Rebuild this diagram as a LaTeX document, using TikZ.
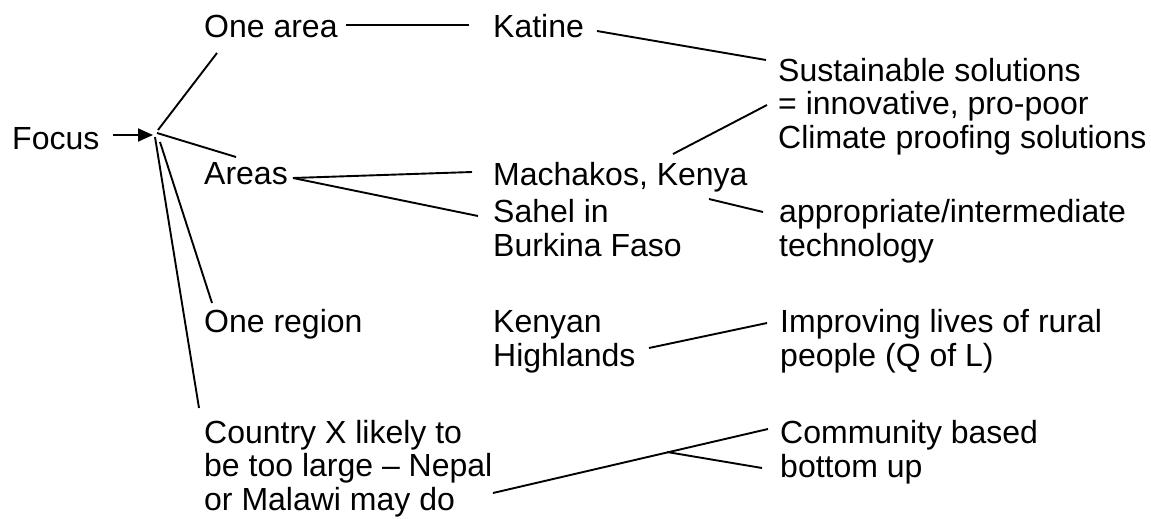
\documentclass[tikz,border=0pt]{standalone}
\usepackage{fontspec}
\setmainfont{Liberation Sans}
\usetikzlibrary{arrows.meta}
\begin{document}
\begin{tikzpicture}[x=1pt,y=-1pt,
  lbl/.style={anchor=base west,inner sep=0pt,align=left,
    font=\fontsize{32}{33.5}\selectfont},
  link/.style={line width=1.9pt},
  pointer/.style={line width=1.9pt,-{Triangle[length=15pt,width=13pt]}}]
\useasboundingbox (0,0) rectangle (1151,519);

% labels are placed by the baseline of their last line
% column 1
\node[lbl] (focus) at (12,149) {Focus};
% column 2
\node[lbl] (onearea) at (204,38) {One area};
\node[lbl] (areas) at (204,184) {Areas};
\node[lbl] (oneregion) at (204,332) {One region};
\node[lbl] (country) at (204,510) {Country X likely to\\be too large -- Nepal\\or Malawi may do};
% column 3
\node[lbl] (katine) at (493,38) {Katine};
\node[lbl] (machakos) at (493,185) {Machakos, Kenya};
\node[lbl] (sahel) at (493,256) {Sahel in\\Burkina Faso};
\node[lbl] (kenyan) at (493,366) {Kenyan\\Highlands};
% column 4
\node[lbl] (sustain) at (778,148) {Sustainable solutions\\= innovative, pro-poor\\Climate proofing solutions};
\node[lbl] (approp) at (779,256) {appropriate/intermediate\\technology};
\node[lbl] (improve) at (780,366) {Improving lives of rural\\people (Q of L)};
\node[lbl] (community) at (780,477) {Community based\\bottom up};

% connector ends
\coordinate (focusR) at (113,135);
\coordinate (hub) at (153,135);
\coordinate (hubA) at (158,130);
\coordinate (hubB) at (157,133);
\coordinate (hubC) at (160,142);
\coordinate (hubD) at (155,137);
\coordinate (oneareaL) at (217,53);
\coordinate (areasL) at (236,157);
\coordinate (oneregionL) at (212,303);
\coordinate (countryL) at (199,408);
\coordinate (oneareaR) at (346,25);
\coordinate (katineL) at (469,25);
\coordinate (katineR) at (597,31);
\coordinate (sustainL) at (766,60);
\coordinate (sustainM) at (767,105);
\coordinate (areasR) at (293,178);
\coordinate (machakosL) at (472,172);
\coordinate (sahelL) at (478,216);
\coordinate (machakosT) at (673,154);
\coordinate (machakosB) at (709,199);
\coordinate (appropL) at (763,212);
\coordinate (kenyanR) at (649,348);
\coordinate (improveL) at (767,323);
\coordinate (countryR) at (493,493);
\coordinate (communityL) at (768,429);
\coordinate (split) at (667,452);
\coordinate (bottomL) at (762,468);

% arrow into the hub
\draw[pointer] (focusR) -- (hub);
% hub branches
\draw[link] (hubA) -- (oneareaL);
\draw[link] (hubB) -- (areasL);
\draw[link] (hubC) -- (oneregionL);
\draw[link] (hubD) -- (countryL);
% second level
\draw[link] (oneareaR) -- (katineL);
\draw[link] (areasR) -- (machakosL);
\draw[link] (areasR) -- (sahelL);
% third level
\draw[link] (katineR) -- (sustainL);
\draw[link] (machakosT) -- (sustainM);
\draw[link] (machakosB) -- (appropL);
\draw[link] (kenyanR) -- (improveL);
\draw[link] (countryR) -- (communityL);
\draw[link] (split) -- (bottomL);
\end{tikzpicture}
\end{document}
